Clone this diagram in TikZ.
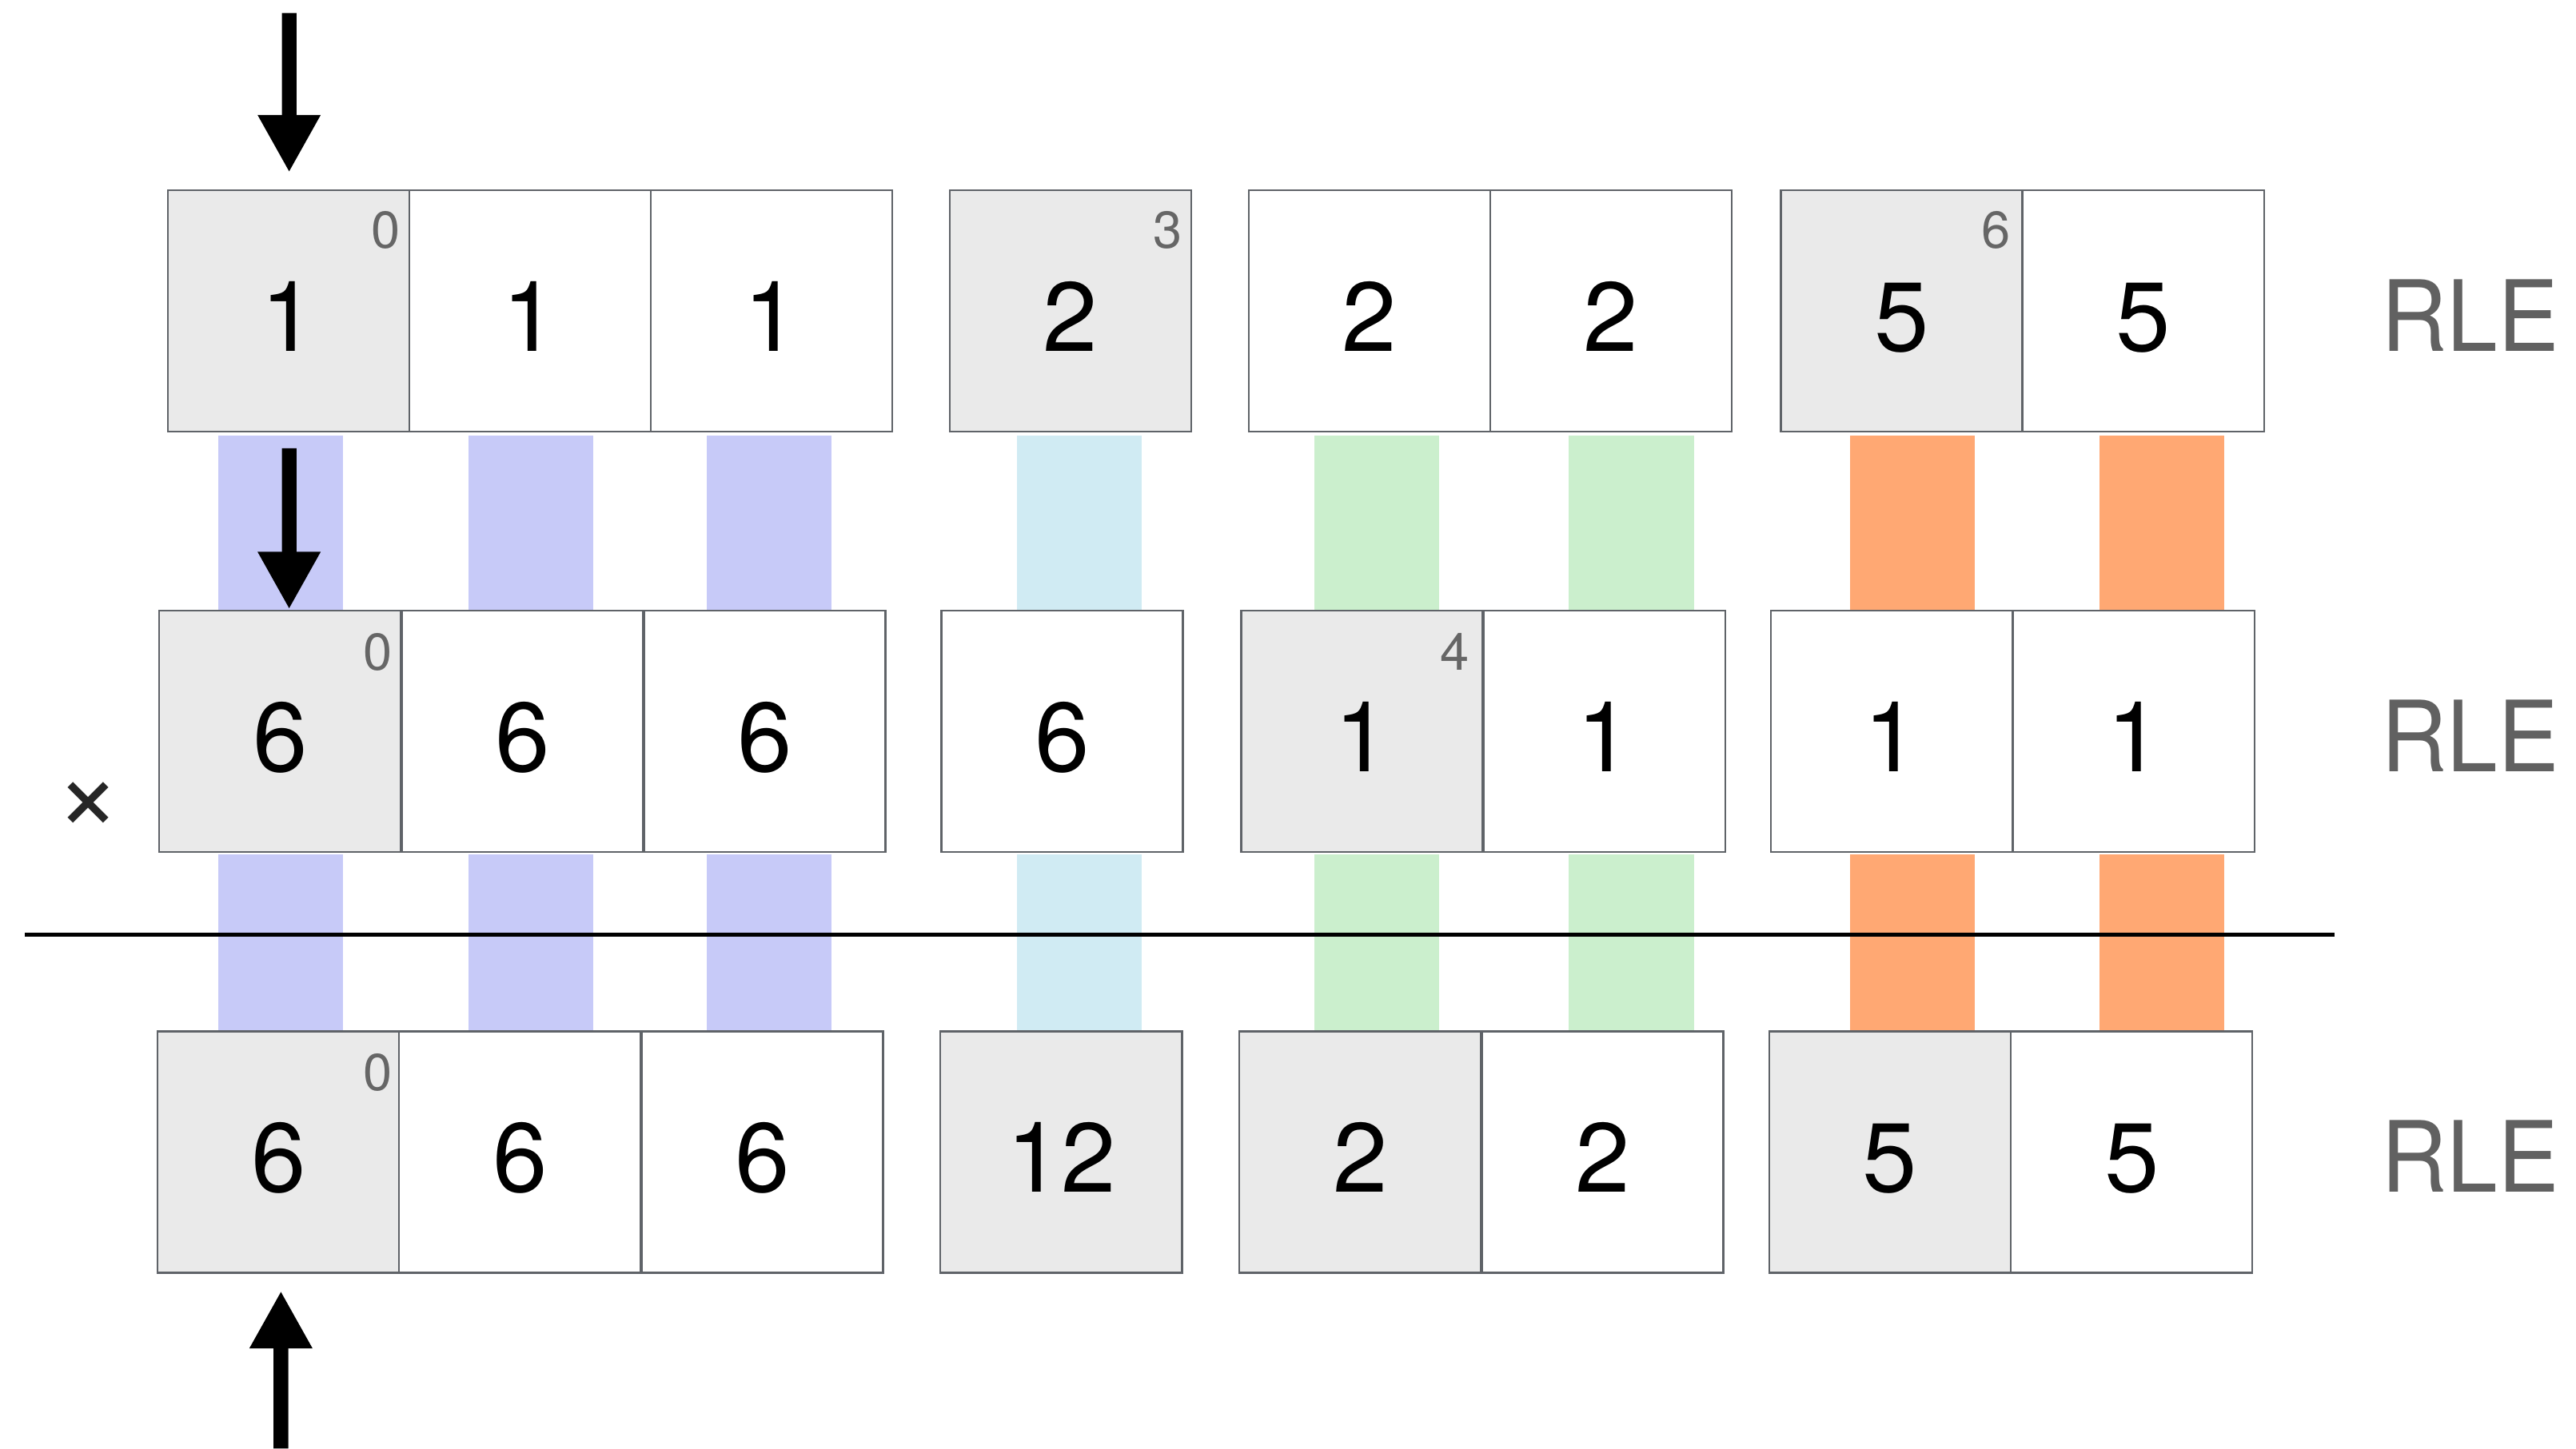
\documentclass[tikz,border=0pt]{standalone}
\usepackage{fontspec}
\setmainfont{TeX Gyre Heros}
\usetikzlibrary{arrows.meta,calc}
\definecolor{cellgray}{HTML}{EAEAEA}
\definecolor{cellborder}{HTML}{5F6368}
\definecolor{idxgray}{HTML}{666666}
\definecolor{rlegray}{HTML}{616161}
\definecolor{barA}{HTML}{C7CAF8}
\definecolor{barB}{HTML}{D0EBF3}
\definecolor{barC}{HTML}{CBEFCD}
\definecolor{barD}{HTML}{FFA873}
\begin{document}
\begin{tikzpicture}[x=0.020549cm,y=-0.020549cm,
  cell/.style={draw=cellborder, line width=0.6pt, minimum size=3.0207cm, inner sep=0pt, outer sep=0pt, text height=1.0cm, text depth=0pt, font=\fontsize{35}{42}\selectfont},
  hl/.style={cell, fill=cellgray},
  idx/.style={text=idxgray, font=\fontsize{18.5}{22}\selectfont, inner sep=0pt},
  rle/.style={text=rlegray, font=\fontsize{35}{42}\selectfont, inner sep=0pt, anchor=east},
  bigarrow/.style={line width=0.183cm, -{Triangle[width=0.734cm,length=0.72cm]}},
]
\useasboundingbox (0,0) rectangle (1568,882);

% colour bars
\foreach \ya/\yb in {265/372, 520/628}{
  \fill[barA] (133,\ya) rectangle (209,\yb);
  \fill[barA] (285,\ya) rectangle (361,\yb);
  \fill[barA] (430,\ya) rectangle (506,\yb);
  \fill[barB] (619,\ya) rectangle (695,\yb);
  \fill[barC] (800,\ya) rectangle (876,\yb);
  \fill[barC] (955,\ya) rectangle (1031,\yb);
  \fill[barD] (1126,\ya) rectangle (1202,\yb);
  \fill[barD] (1278,\ya) rectangle (1354,\yb);
}

% divider line
\coordinate (hlL) at (15,569);
\coordinate (hlR) at (1421,569);
\draw[line width=1.5pt] (hlL) -- (hlR);

% row 1
\node[hl]   (r1c1) at (175.5,189.5) {1};
\node[cell] (r1c2) at (322.5,189.5) {1};
\node[cell] (r1c3) at (469.5,189.5) {1};
\node[hl]   (r1c4) at (651.5,189.5) {2};
\node[cell] (r1c5) at (833.5,189.5) {2};
\node[cell] (r1c6) at (980.5,189.5) {2};
\node[hl]   (r1c7) at (1157.5,189.5) {5};
\node[cell] (r1c8) at (1304.5,189.5) {5};

% row 2
\node[hl]   (r2c1) at (170.5,445.5) {6};
\node[cell] (r2c2) at (318,445.5) {6};
\node[cell] (r2c3) at (465.5,445.5) {6};
\node[cell] (r2c4) at (646.5,445.5) {6};
\node[hl]   (r2c5) at (829,445.5) {1};
\node[cell] (r2c6) at (976.5,445.5) {1};
\node[cell] (r2c7) at (1151.5,445.5) {1};
\node[cell] (r2c8) at (1299,445.5) {1};

% row 3
\node[hl]   (r3c1) at (169.5,701.5) {6};
\node[cell] (r3c2) at (316.5,701.5) {6};
\node[cell] (r3c3) at (464,701.5) {6};
\node[hl]   (r3c4) at (646,701.5) {12};
\node[hl]   (r3c5) at (828,701.5) {2};
\node[cell] (r3c6) at (975.5,701.5) {2};
\node[hl]   (r3c7) at (1150.5,701.5) {5};
\node[cell] (r3c8) at (1297.5,701.5) {5};

% indices
\node[idx] (i11) at ($(r1c1.north east)+(-14,24)$) {0};
\node[idx] (i14) at ($(r1c4.north east)+(-14,24)$) {3};
\node[idx] (i17) at ($(r1c7.north east)+(-16,24)$) {6};
\node[idx] (i21) at ($(r2c1.north east)+(-14,25)$) {0};
\node[idx] (i25) at ($(r2c5.north east)+(-17,25)$) {4};
\node[idx] (i31) at ($(r3c1.north east)+(-13,25)$) {0};

% RLE labels
\node[rle] (rle1) at (1558,192) {\scalebox{0.93}[1]{RLE}};
\node[rle] (rle2) at (1558,448) {\scalebox{0.93}[1]{RLE}};
\node[rle] (rle3) at (1558,704) {\scalebox{0.93}[1]{RLE}};

% times sign
\node[inner sep=0pt, text={black!85}, font=\fontsize{40}{46}\selectfont] (times) at (54,491) {×};

% arrows
\coordinate (a1s) at (176,8);
\draw[bigarrow] (a1s) -- ($(r1c1.north)+(0.5,-11)$);
\coordinate (a2s) at (176,273);
\draw[bigarrow] (a2s) -- ($(r2c1.north)+(5.5,-1)$);
\coordinate (a3s) at (171,882);
\draw[bigarrow] (a3s) -- ($(r3c1.south)+(1.5,11)$);
\end{tikzpicture}
\end{document}
